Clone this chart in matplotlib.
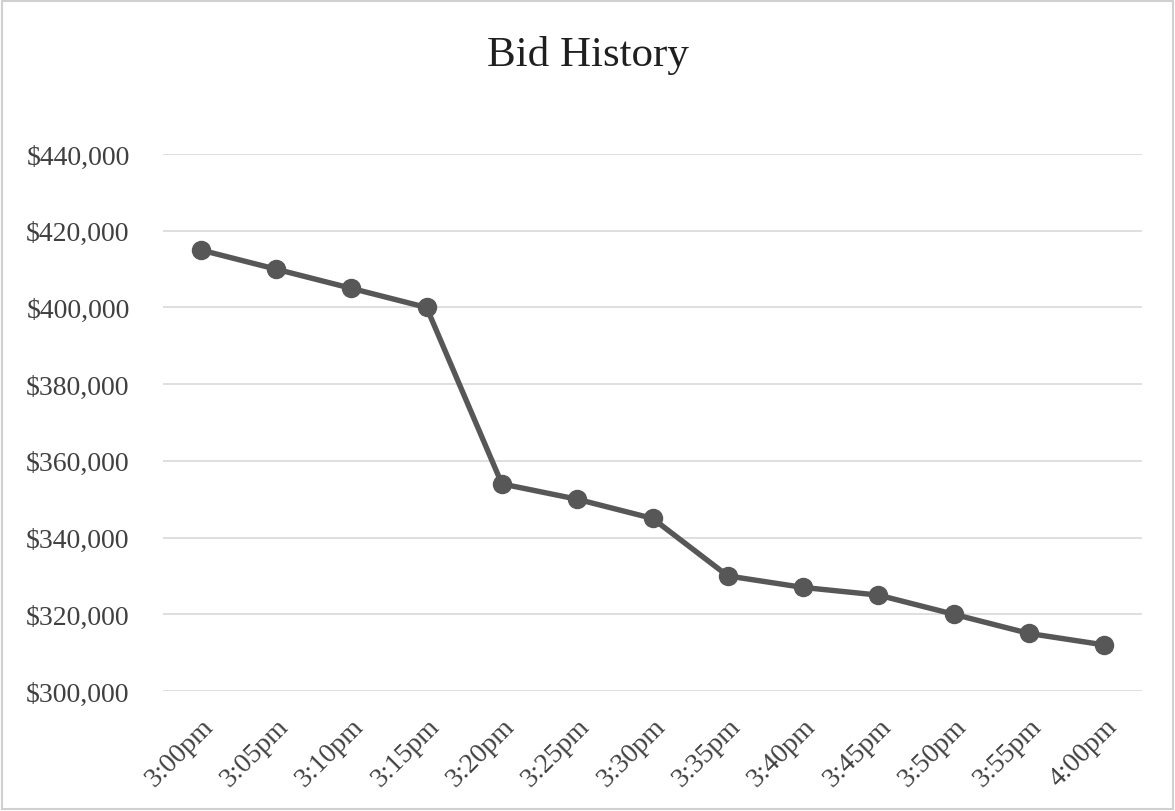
import matplotlib.pyplot as plt
from matplotlib.ticker import FuncFormatter
from matplotlib.patches import Rectangle

times = ['3:00pm', '3:05pm', '3:10pm', '3:15pm', '3:20pm', '3:25pm', '3:30pm',
         '3:35pm', '3:40pm', '3:45pm', '3:50pm', '3:55pm', '4:00pm']
bids = [415000, 410000, 405000, 400000, 354000, 350000, 345000,
        330000, 327000, 325000, 320000, 315000, 312000]
y_ticks = [300000, 320000, 340000, 360000, 380000, 400000, 420000, 440000]

plt.rcParams['font.family'] = ['Liberation Serif', 'DejaVu Serif']

fig = plt.figure(figsize=(11.75, 8.12), dpi=100)
ax = fig.add_axes([0.1387, 0.1478, 0.972 - 0.1387, 0.809 - 0.1478])

x = list(range(len(times)))
ax.plot(x, bids, color='#575757', linewidth=3.9, marker='o', markersize=13,
        solid_capstyle='round', zorder=3)

ax.set_xlim(-0.5, len(times) - 0.5)
ax.set_ylim(300000, 440000)
ax.set_yticks(y_ticks)
ax.yaxis.set_major_formatter(FuncFormatter(lambda v, p: '${:,.0f}'.format(v)))
ax.set_xticks(x)
ax.set_xticklabels(times, rotation=45, ha='right', rotation_mode='anchor')

ax.grid(axis='y', color='#d9d9d9', linewidth=1.2)
ax.set_axisbelow(True)
for s in ax.spines.values():
    s.set_visible(False)
ax.tick_params(axis='both', length=0, labelsize=20, labelcolor='#404040')
ax.tick_params(axis='y', pad=24)
ax.tick_params(axis='x', pad=16)

fig.text(0.5, 0.932, 'Bid History', ha='center', va='center', fontsize=31, color='#1f1f1f')

fig.patches.append(Rectangle((0.002, 0.002), 0.996, 0.996, transform=fig.transFigure,
                             fill=False, edgecolor='#d0d0d0', linewidth=1.5))

fig.savefig('out.png', dpi=100)
